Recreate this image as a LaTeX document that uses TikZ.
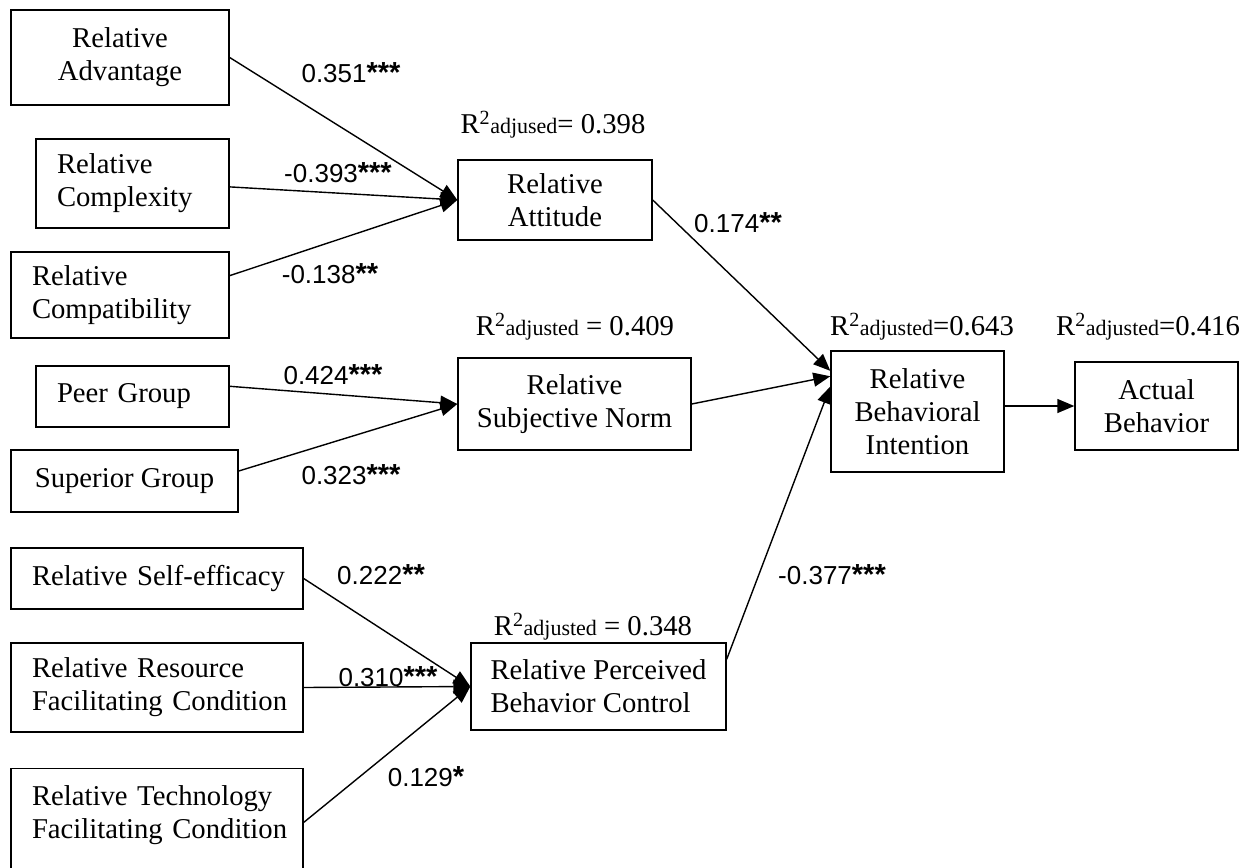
\documentclass[tikz,border=0pt]{standalone}
\usepackage{fontspec}
\setmainfont{Liberation Serif}
\newfontfamily\coeffont{Liberation Sans}
\usetikzlibrary{arrows.meta}
\newcommand{\radj}[1]{R\textsuperscript{2}{\fontsize{22}{22}\selectfont #1}}
\newcommand{\sig}[1]{{\bfseries\fontsize{29}{29}\selectfont #1}}
\tikzset{
    box/.style={draw, line width=1.4pt, inner sep=0pt, align=center,
        font=\fontsize{28.7}{33}\selectfont},
    leftbox/.style={box, align=left, inner xsep=21pt},
    link/.style={line width=1.4pt, -{Triangle[length=17pt, width=14pt]}},
    coef/.style={inner sep=0pt, font=\coeffont\fontsize{26}{26}\selectfont},
    rsq/.style={inner sep=0pt, font=\fontsize{28.7}{30}\selectfont}
}
\begin{document}
\begin{tikzpicture}[x=1pt, y=-1pt]
    \useasboundingbox (0,0) rectangle (1249,867);
    \fill [white] (0,0) rectangle (1249,867);
    \clip (0,0) rectangle (1249,867);
    % antecedents
    \node [box, minimum width=218pt, minimum height=95pt] (adv) at (120,57.5) {Relative\\Advantage};
    \node [leftbox, text width=151pt, minimum height=89pt] (cplx) at (132.5,183.5) {Relative\\Complexity};
    \node [leftbox, text width=176pt, minimum height=86pt] (comp) at (120,295) {Relative\\Compatibility};
    \node [leftbox, text width=151pt, minimum height=61pt] (peer) at (132.5,396.5) {\mbox{Peer Group}};
    \node [box, minimum width=227pt, minimum height=62pt] (sup) at (124.5,481) {Superior Group};
    \node [leftbox, text width=250pt, minimum height=61pt] (self) at (157,578.5) {\mbox{Relative Self-efficacy}};
    \node [leftbox, text width=250pt, minimum height=89pt] (res) at (157,687.5) {\mbox{Relative Resource}\\\mbox{Facilitating Condition}};
    \node [leftbox, text width=250pt, inner ysep=17pt, text depth=100pt, anchor=north] (tech) at (157,768) {\mbox{Relative Technology}\\\mbox{Facilitating Condition}};
    % constructs
    \node [box, minimum width=194pt, minimum height=80pt] (att) at (555,200) {Relative\\Attitude};
    \node [box, minimum width=233pt, minimum height=92pt] (sn) at (574.5,404) {Relative\\Subjective Norm};
    \node [box, minimum width=255pt, minimum height=87pt, align=left] (pbc) at (598.5,686.5) {Relative Perceived\\Behavior Control};
    \node [box, minimum width=173pt, minimum height=121pt] (bi) at (917.5,411.5) {Relative\\Behavioral\\Intention};
    \node [box, minimum width=163pt, minimum height=88pt] (ab) at (1156.5,406) {Actual\\Behavior};
    % explained variance
    \node [rsq] (r2att) at (553,125) {\radj{adjused}= 0.398};
    \node [rsq] (r2sn) at (575,327) {\radj{adjusted} = 0.409};
    \node [rsq] (r2bi) at (922,327) {\radj{adjusted}=0.643};
    \node [rsq] (r2ab) at (1148,327) {\radj{adjusted}=0.416};
    \node [rsq] (r2pbc) at (593,627) {\radj{adjusted} = 0.348};
    % paths
    \draw [link] (adv.east) -- (att.west);
    \draw [link] (cplx.-2) -- (att.west);
    \draw [link] (comp.10) -- (att.west);
    \draw [link] (peer.6) -- (sn.west);
    \draw [link] (sup.5) -- (sn.west);
    \draw [link] (self.east) -- (pbc.west);
    \draw [link] (res.east) -- (pbc.west);
    \draw [link] (tech.9) -- (pbc.west);
    \draw [link] (att.east) -- (bi.155);
    \draw [link] (sn.east) -- (bi.158);
    \draw [link] (pbc.12) -- (bi.164);
    \draw [link] (bi.east |- ab.west) -- (ab.west);
    % coefficients
    \node [coef] (c1) at (351,73) {0.351\sig{***}};
    \node [coef] (c2) at (338,173) {-0.393\sig{***}};
    \node [coef] (c3) at (330,274) {-0.138\sig{**}};
    \node [coef] (c4) at (333,375) {0.424\sig{***}};
    \node [coef] (c5) at (351,475) {0.323\sig{***}};
    \node [coef] (c6) at (738,223) {0.174\sig{**}};
    \node [coef] (c7) at (381,575) {0.222\sig{**}};
    \node [coef] (c8) at (388,677) {0.310\sig{***}};
    \node [coef] (c9) at (426,777) {0.129\sig{*}};
    \node [coef] (c10) at (832,575) {-0.377\sig{***}};
\end{tikzpicture}
\end{document}
